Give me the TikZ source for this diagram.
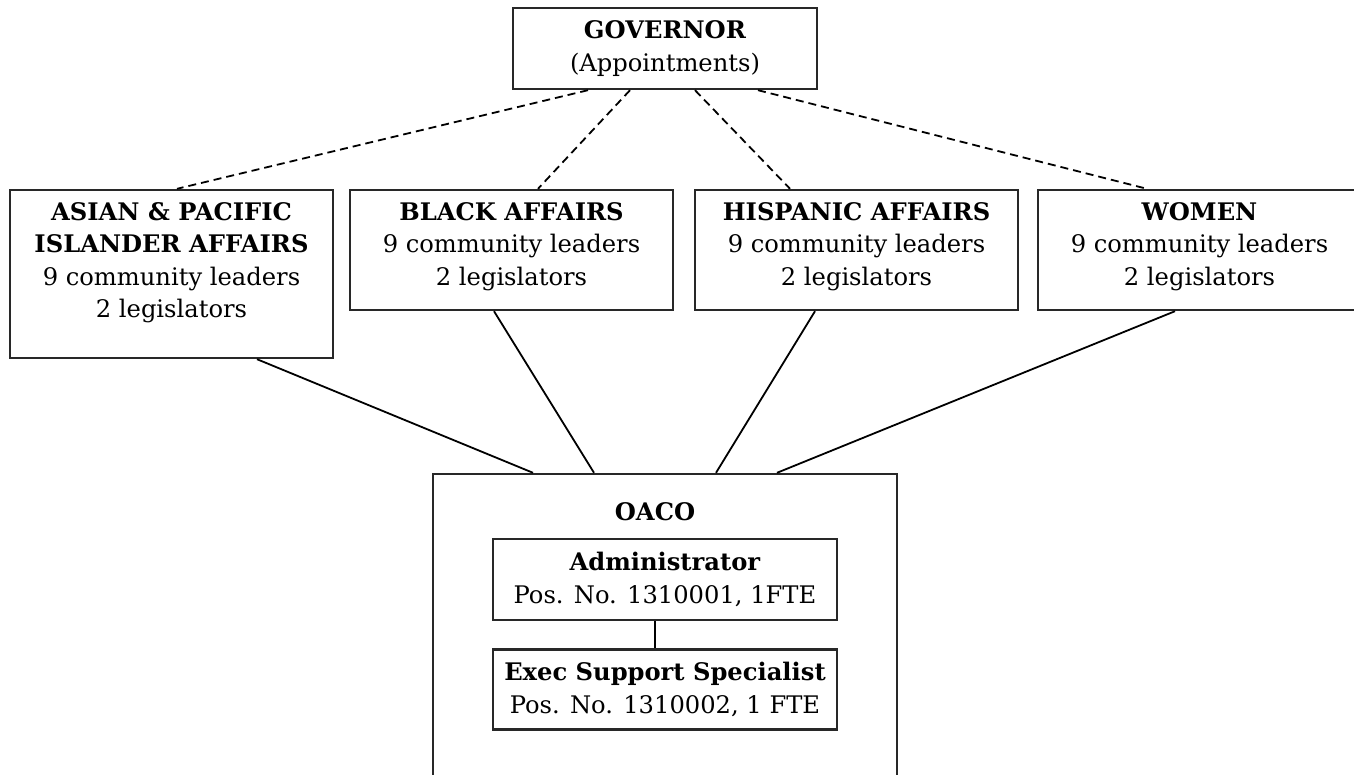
\documentclass[tikz,border=0pt]{standalone}
\usepackage{fontspec}
\setmainfont{DejaVu Serif}
\usepackage{xcolor}
\usepackage{tikz}
\usetikzlibrary{positioning, calc}
\definecolor{framegray}{RGB}{40, 40, 40}
\newcommand{\orgfont}{\fontsize{12.1}{16.25}\selectfont}
\tikzset{
    orgframe/.style={
        draw=framegray, line width=1.2pt, fill=white, inner sep=0pt, font=\orgfont
    },
    orgbox/.style={
        orgframe, align=center
    },
    affairbox/.style={
        orgframe,
        execute at begin node={\begin{minipage}[c][#1][t]{161.5pt}\centering\vspace*{6.2pt}},
        execute at end node={\end{minipage}}
    },
    dashlink/.style={
        line width=0.9pt, dash pattern=on 4pt off 2.5pt
    },
    solidlink/.style={
        line width=0.9pt
    }
}

\begin{document}
\begin{tikzpicture}[x=0.5pt, y=-0.5pt]
        \useasboundingbox (0,0) rectangle (1354,775);
        \clip (0,0) rectangle (1354,775);

        % --- 1. BOXES ---
        \node[orgbox, minimum width=152pt, minimum height=40.5pt] (gov) at (665,48.5)
            {\textbf{GOVERNOR}\\(Appointments)};

        \node[affairbox=84pt] (asian) at (171.5,274) {
            \textbf{ASIAN \& PACIFIC}\\
            \textbf{ISLANDER AFFAIRS}\\
            9 community leaders\\
            2 legislators
        };
        \node[affairbox=60pt] (black) at (511.5,250) {
            \textbf{BLACK AFFAIRS}\\
            9 community leaders\\
            2 legislators
        };
        \node[affairbox=60pt] (hisp) at (856.5,250) {
            \textbf{HISPANIC AFFAIRS}\\
            9 community leaders\\
            2 legislators
        };
        \node[affairbox=60pt] (women) at (1199.5,250) {
            \textbf{WOMEN}\\
            9 community leaders\\
            2 legislators
        };

        \node[orgframe, minimum width=232pt, minimum height=163pt] (oaco) at (665,637) {};
        \node[font=\orgfont\bfseries] (oacolbl) at ($(oaco.north)+(-10,39)$) {OACO};
        \node[orgbox, minimum width=172pt, minimum height=40.5pt] (admin) at (665,579.5)
            {\textbf{Administrator}\\Pos. No. 1310001, 1FTE};
        \node[orgbox, minimum width=172pt, minimum height=40pt, below=13.5pt of admin] (exec)
            {\textbf{Exec Support Specialist}\\Pos. No. 1310002, 1 FTE};

        % --- 2. APPOINTMENTS (DASHED) ---
        \draw[dashlink] ($(gov.south)+(-77,0)$) -- ($(asian.north)+(5.5,0)$);
        \draw[dashlink] ($(gov.south)+(-35,0)$) -- ($(black.north)+(26.5,0)$);
        \draw[dashlink] ($(gov.south)+(30,0)$) -- ($(hisp.north)+(-66.5,0)$);
        \draw[dashlink] ($(gov.south)+(93,0)$) -- ($(women.north)+(-52.5,0)$);

        % --- 3. COMMISSIONS TO OACO ---
        \draw[solidlink] ($(asian.south)+(85.5,0)$) -- ($(oaco.north)+(-132,0)$);
        \draw[solidlink] ($(black.south)+(-17.5,0)$) -- ($(oaco.north)+(-71,0)$);
        \draw[solidlink] ($(hisp.south)+(-41.5,0)$) -- ($(oaco.north)+(51,0)$);
        \draw[solidlink] ($(women.south)+(-24.5,0)$) -- ($(oaco.north)+(112,0)$);
        \draw[solidlink] ($(admin.south)+(-10,0)$) -- ($(exec.north)+(-10,0)$);

    \end{tikzpicture}
\end{document}
